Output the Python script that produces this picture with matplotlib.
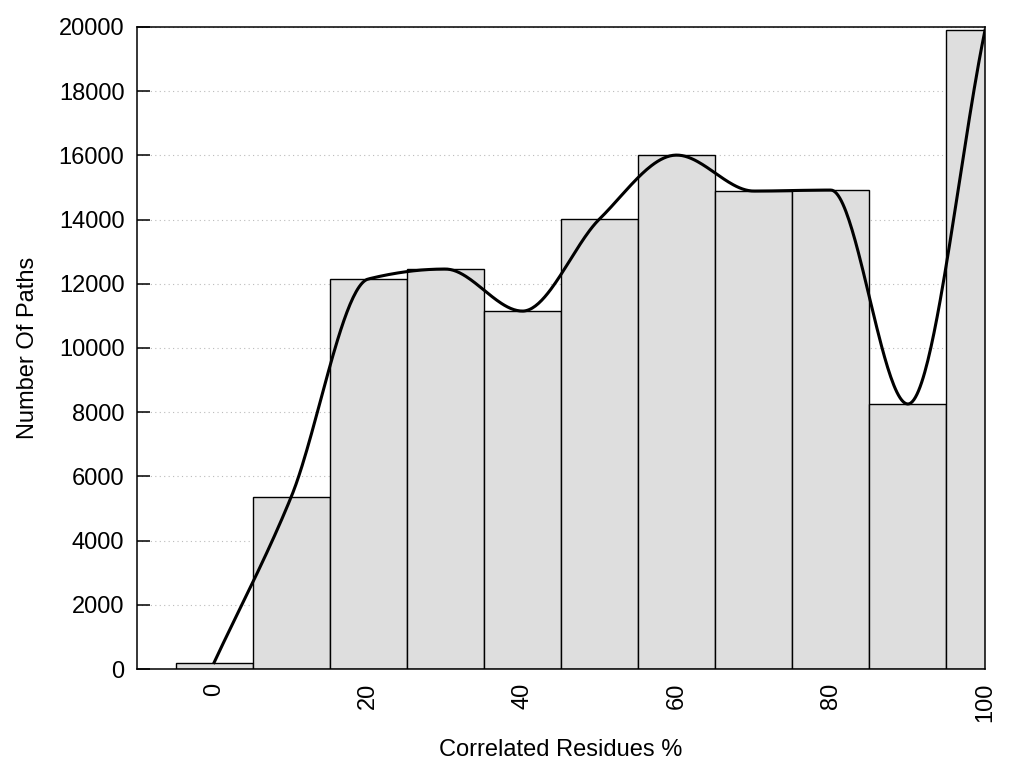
import matplotlib
matplotlib.use("Agg")
import matplotlib.pyplot as plt
import numpy as np

plt.rcParams['font.family'] = ['Liberation Sans', 'DejaVu Sans']

# histogram of correlated residues
bins = [0, 10, 20, 30, 40, 50, 60, 70, 80, 90, 100]
paths = [200, 5360, 12150, 12460, 11150, 14020, 16010, 14890, 14920, 8255, 19900]


def mcspline(x, y, xs):
    # monotone cubic (Fritsch-Carlson), like gnuplot's smooth mcsplines
    x = np.asarray(x, float)
    y = np.asarray(y, float)
    h = np.diff(x)
    d = np.diff(y) / h
    m = np.zeros_like(y)
    m[0], m[-1] = d[0], d[-1]
    for i in range(1, len(x) - 1):
        if d[i - 1] * d[i] > 0:
            w1 = 2 * h[i] + h[i - 1]
            w2 = h[i] + 2 * h[i - 1]
            m[i] = (w1 + w2) / (w1 / d[i - 1] + w2 / d[i])
    idx = np.clip(np.searchsorted(x, xs) - 1, 0, len(x) - 2)
    t = (xs - x[idx]) / h[idx]
    h00 = 2 * t**3 - 3 * t**2 + 1
    h10 = t**3 - 2 * t**2 + t
    h01 = -2 * t**3 + 3 * t**2
    h11 = t**3 - t**2
    return (h00 * y[idx] + h10 * h[idx] * m[idx]
            + h01 * y[idx + 1] + h11 * h[idx] * m[idx + 1])


fig = plt.figure(figsize=(10.24, 7.68), dpi=100)
ax = fig.add_axes([137 / 1024, 1 - 669 / 768, 848 / 1024, 642 / 768])

ax.bar(bins, paths, width=10, color='#dedede', edgecolor='black',
       linewidth=1, zorder=2)

xs = np.linspace(bins[0], bins[-1], 500)
ax.plot(xs, mcspline(bins, paths, xs), color='black', lw=2.2, zorder=3)

ax.set_xlim(-10, 100)
ax.set_ylim(0, 20000)
ax.set_xticks(range(0, 101, 20))
ax.set_yticks(range(0, 20001, 2000))
ax.yaxis.grid(True, linestyle=(0, (1, 3)), color='#bbbbbb', lw=0.8, zorder=0)
ax.set_axisbelow(True)
ax.tick_params(axis='both', direction='in', labelsize=17, width=1.1)
ax.tick_params(axis='y', length=9, pad=9)
ax.tick_params(axis='x', length=0, pad=10, labelrotation=90)
for s in ax.spines.values():
    s.set_linewidth(1.1)
    s.set_zorder(4)

ax.set_xlabel('Correlated Residues %', fontsize=17, labelpad=12)
ax.set_ylabel('Number Of Paths', fontsize=17, labelpad=14)

fig.savefig('out.png', dpi=100)
